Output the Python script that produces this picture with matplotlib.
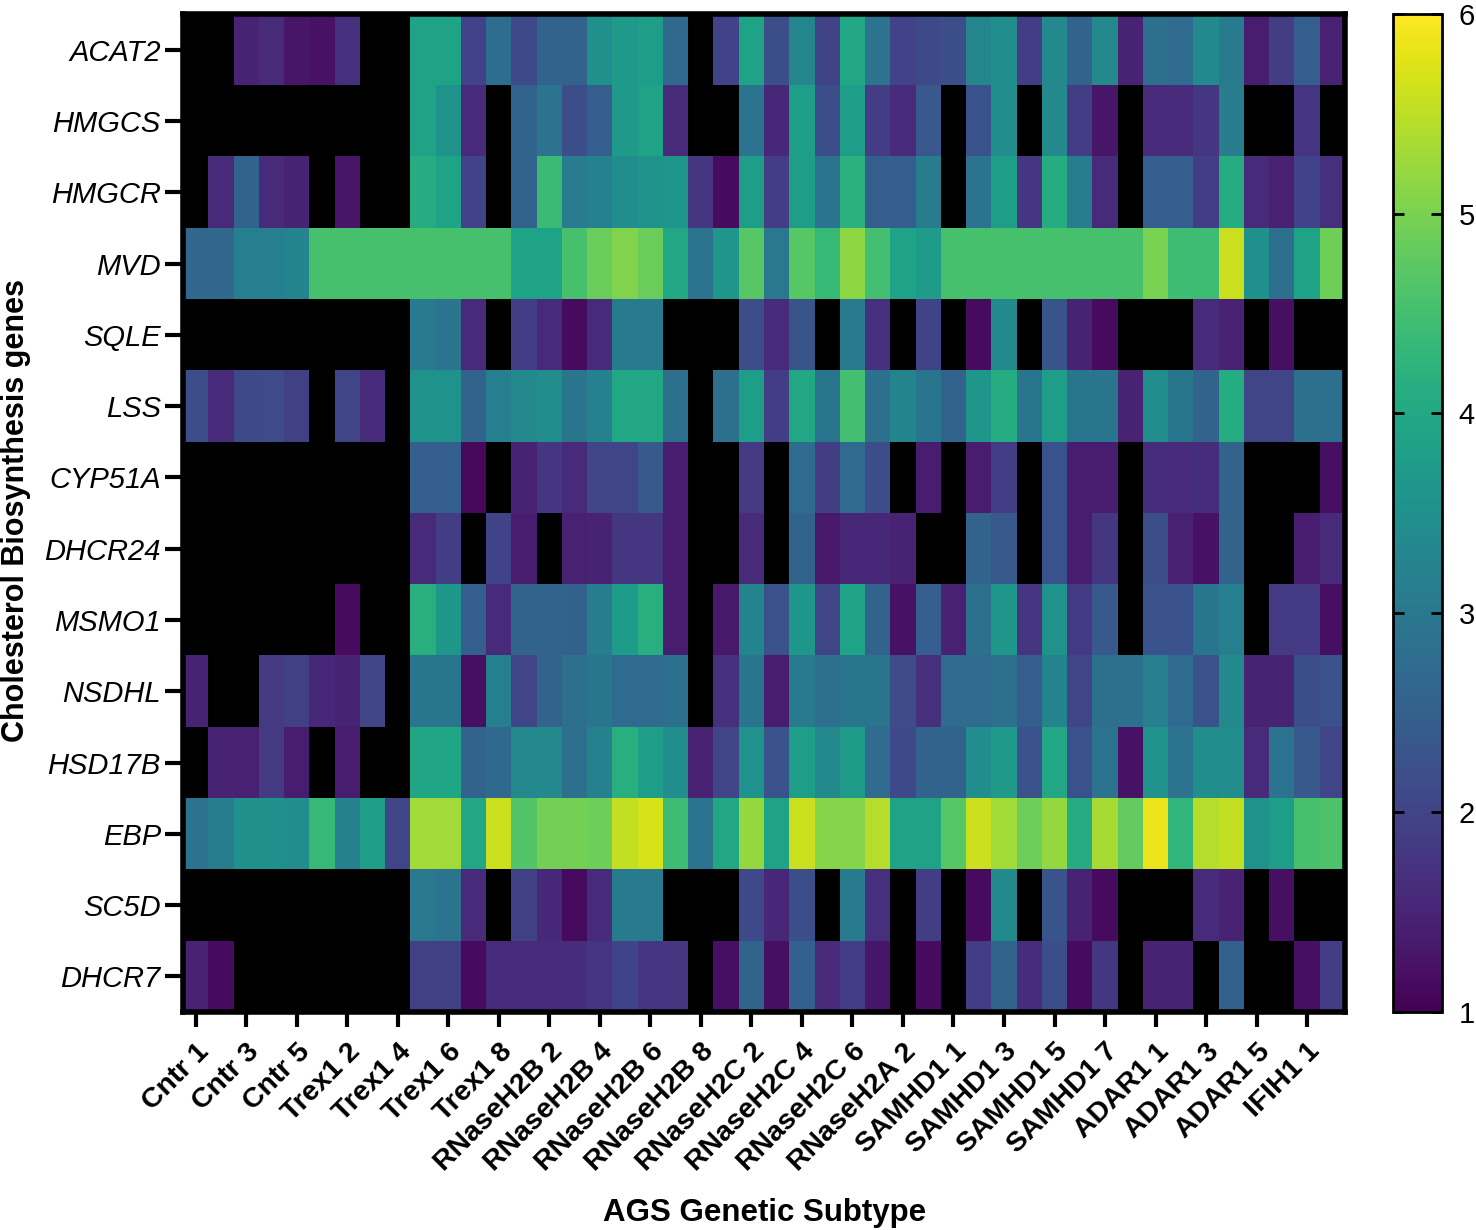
import numpy as np
import matplotlib.pyplot as plt

plt.rcParams['font.family'] = ['Liberation Sans', 'DejaVu Sans']

genes = ['ACAT2', 'HMGCS', 'HMGCR', 'MVD', 'SQLE', 'LSS', 'CYP51A', 'DHCR24',
         'MSMO1', 'NSDHL', 'HSD17B', 'EBP', 'SC5D', 'DHCR7']

groups = [('Cntr', 5), ('Trex1', 8), ('RNaseH2B', 8), ('RNaseH2C', 6),
          ('RNaseH2A', 3), ('SAMHD1', 8), ('ADAR1', 6), ('IFIH1', 2)]
samples = ['%s %d' % (g, i) for g, n in groups for i in range(1, n + 1)]

# 0 = not detected (drawn black)
acat2 = [0, 0, 1.5, 1.6, 1.3, 1.25, 1.7, 0, 0, 3.9, 3.9, 2.0, 2.8, 2.1, 2.6, 2.6,
         3.5, 3.7, 3.8, 2.7, 0, 2.0, 3.9, 2.2, 3.3, 2.0, 4.0, 2.9, 2.0, 2.1, 2.2, 3.3,
         3.45, 1.9, 3.35, 2.6, 3.35, 1.5, 2.85, 2.75, 3.4, 3.05, 1.4, 1.9, 2.5, 1.45]
hmgcs = [0, 0, 0, 0, 0, 0, 0, 0, 0, 3.9, 3.55, 1.6, 0, 2.6, 2.9, 2.2,
         2.5, 3.7, 3.9, 1.6, 0, 0, 2.9, 1.55, 3.8, 2.2, 3.8, 1.9, 1.6, 2.35, 0, 2.25,
         3.45, 0, 3.35, 1.9, 1.3, 0, 1.6, 1.6, 1.8, 3.1, 0, 0, 1.75, 0]
hmgcr = [0, 1.6, 2.6, 1.6, 1.5, 0, 1.3, 0, 0, 4.1, 3.9, 2.0, 0, 2.6, 4.4, 3.1,
         3.2, 3.45, 3.55, 3.65, 1.8, 1.15, 3.8, 1.9, 3.8, 2.9, 4.2, 2.5, 2.5, 3.1, 0, 2.9,
         3.8, 1.8, 4.1, 3.1, 1.6, 0, 2.5, 2.5, 1.9, 4.1, 1.6, 1.45, 2.0, 1.7]
mvd = [2.65, 2.65, 3.15, 3.15, 3.25, 4.55, 4.55, 4.55, 4.55, 4.55, 4.55, 4.55, 4.55, 3.9, 3.9, 4.55,
       4.85, 5.05, 4.85, 4.0, 2.9, 3.6, 4.7, 3.0, 4.7, 4.35, 5.15, 4.5, 3.9, 3.75, 4.55, 4.55,
       4.55, 4.55, 4.55, 4.55, 4.55, 4.55, 5.0, 4.45, 4.45, 5.6, 3.5, 2.85, 3.9, 4.9]
sqle = [0, 0, 0, 0, 0, 0, 0, 0, 0, 3.05, 2.9, 1.6, 0, 1.9, 1.6, 1.15,
        1.6, 3.05, 3.05, 0, 0, 0, 2.2, 1.6, 2.3, 0, 3.05, 1.7, 0, 2.0, 0, 1.15,
        3.4, 0, 2.3, 1.5, 1.15, 0, 0, 0, 1.6, 1.5, 0, 1.2, 0, 0]
lss = [2.2, 1.6, 2.1, 2.15, 1.95, 0, 2.05, 1.6, 0, 3.55, 3.55, 2.6, 3.15, 3.35, 3.45, 2.95,
       3.2, 4.0, 4.0, 2.85, 0, 2.85, 3.8, 1.9, 4.0, 2.95, 4.5, 2.85, 3.25, 2.95, 2.6, 3.65,
       4.1, 2.95, 3.8, 2.95, 2.95, 1.5, 3.45, 2.95, 2.6, 4.1, 2.05, 2.05, 2.85, 2.85]
cyp51a = [0, 0, 0, 0, 0, 0, 0, 0, 0, 2.5, 2.5, 1.1, 0, 1.5, 1.8, 1.6,
          2.05, 2.05, 2.4, 1.4, 0, 0, 1.85, 0, 2.75, 1.9, 2.75, 2.2, 0, 1.4, 0, 1.4,
          1.9, 0, 2.25, 1.4, 1.4, 0, 1.65, 1.6, 1.65, 2.6, 0, 0, 0, 1.2]
dhcr24 = [0, 0, 0, 0, 0, 0, 0, 0, 0, 1.6, 1.9, 0, 2.0, 1.4, 0, 1.45,
          1.5, 1.8, 1.8, 1.4, 0, 0, 1.6, 0, 2.6, 1.35, 1.55, 1.55, 1.5, 0, 0, 2.6,
          2.4, 0, 2.25, 1.4, 1.8, 0, 2.2, 1.45, 1.25, 2.6, 0, 0, 1.4, 1.6]
msmo1 = [0, 0, 0, 0, 0, 0, 1.15, 0, 0, 4.15, 3.65, 2.5, 1.6, 2.6, 2.6, 2.55,
         3.1, 3.75, 4.15, 1.4, 0, 1.35, 3.25, 2.25, 3.65, 2.05, 3.9, 2.6, 1.25, 2.5, 1.45, 2.85,
         3.65, 1.75, 3.55, 1.85, 2.4, 0, 2.25, 2.25, 2.95, 3.15, 0, 1.85, 1.85, 1.2]
nsdhl = [1.5, 0, 0, 1.85, 1.95, 1.55, 1.5, 2.05, 0, 2.95, 2.95, 1.2, 3.15, 2.05, 2.6, 2.85,
         2.95, 2.75, 2.75, 2.85, 0, 1.7, 2.95, 1.4, 3.05, 2.85, 2.95, 2.95, 2.15, 1.7, 2.75, 2.75,
         2.85, 2.5, 3.25, 2.05, 2.85, 2.85, 3.15, 2.75, 2.25, 3.4, 1.5, 1.5, 2.2, 2.25]
hsd17b = [0, 1.5, 1.45, 1.85, 1.4, 0, 1.4, 0, 0, 3.95, 3.95, 2.6, 2.7, 3.35, 3.35, 2.85,
          3.2, 4.15, 3.8, 3.45, 1.5, 2.05, 3.55, 2.25, 3.8, 3.35, 3.75, 2.75, 2.1, 2.6, 2.6, 3.45,
          3.7, 2.25, 4.0, 2.25, 2.9, 1.25, 3.55, 2.9, 3.45, 3.45, 1.6, 2.9, 2.4, 2.05]
ebp = [2.9, 3.1, 3.5, 3.5, 3.45, 4.35, 3.2, 3.8, 2.05, 5.3, 5.3, 4.0, 5.6, 4.65, 4.95, 4.95,
       4.9, 5.55, 5.7, 4.45, 2.9, 4.0, 5.2, 3.9, 5.6, 5.1, 5.1, 5.45, 3.9, 3.9, 4.7, 5.6,
       5.3, 4.9, 5.2, 4.1, 5.35, 4.8, 5.85, 4.3, 5.45, 5.55, 3.55, 3.8, 4.55, 4.6]
sc5d = [0, 0, 0, 0, 0, 0, 0, 0, 0, 3.0, 2.9, 1.6, 0, 1.95, 1.55, 1.15,
        1.6, 3.05, 3.05, 0, 0, 0, 2.1, 1.55, 2.2, 0, 3.05, 1.7, 0, 1.9, 0, 1.15,
        3.4, 0, 2.3, 1.5, 1.15, 0, 0, 0, 1.6, 1.5, 0, 1.2, 0, 0]
dhcr7 = [1.5, 1.15, 0, 0, 0, 0, 0, 0, 0, 1.95, 1.95, 1.15, 1.6, 1.6, 1.6, 1.65,
         1.75, 2.0, 1.8, 1.8, 0, 1.2, 2.6, 1.2, 2.55, 1.6, 1.9, 1.3, 0, 1.15, 0, 1.9,
         2.6, 1.65, 2.2, 1.15, 1.8, 0, 1.5, 1.5, 0, 2.55, 0, 0, 1.2, 1.9]

expr = np.array([acat2, hmgcs, hmgcr, mvd, sqle, lss, cyp51a, dhcr24,
                 msmo1, nsdhl, hsd17b, ebp, sc5d, dhcr7])

W, H = 1476, 1230
fig = plt.figure(figsize=(W / 100, H / 100), dpi=100)
ax = fig.add_axes([183 / W, 1 - 1012 / H, 1162 / W, 998 / H])
cax = fig.add_axes([1393 / W, 1 - 1012 / H, 49 / W, 998 / H])

cmap = plt.get_cmap('viridis').copy()
cmap.set_under('black')
im = ax.imshow(expr, cmap=cmap, vmin=1, vmax=6, aspect='auto', interpolation='nearest')

ax.set_xticks(np.arange(0, len(samples), 2))
ax.set_xticklabels(samples[::2], rotation=45, ha='right', va='top',
                   rotation_mode='anchor', fontsize=20.5, fontweight='bold')
ax.set_yticks(np.arange(len(genes)))
ax.set_yticklabels(genes, fontsize=21, fontstyle='italic')
ax.tick_params(axis='x', length=11, width=3, pad=8)
ax.tick_params(axis='y', length=13, width=3, pad=3)
for s in ax.spines.values():
    s.set_linewidth(4)
    s.set_color('black')

ax.set_xlabel('AGS Genetic Subtype', fontsize=22.5, fontweight='bold')
ax.xaxis.set_label_coords((765 - 183) / 1162, (1012 - 1198) / 998)
ax.set_ylabel('Cholesterol Biosynthesis genes', fontsize=22, fontweight='bold')
ax.yaxis.set_label_coords((31 - 183) / 1162, (1012 - 511) / 998)

cb = fig.colorbar(im, cax=cax, ticks=[1, 2, 3, 4, 5, 6])
cb.outline.set_linewidth(2)
cax.tick_params(direction='in', left=True, right=True, length=8, width=2,
                labelsize=21, pad=12)

fig.savefig('out.png', dpi=100)
